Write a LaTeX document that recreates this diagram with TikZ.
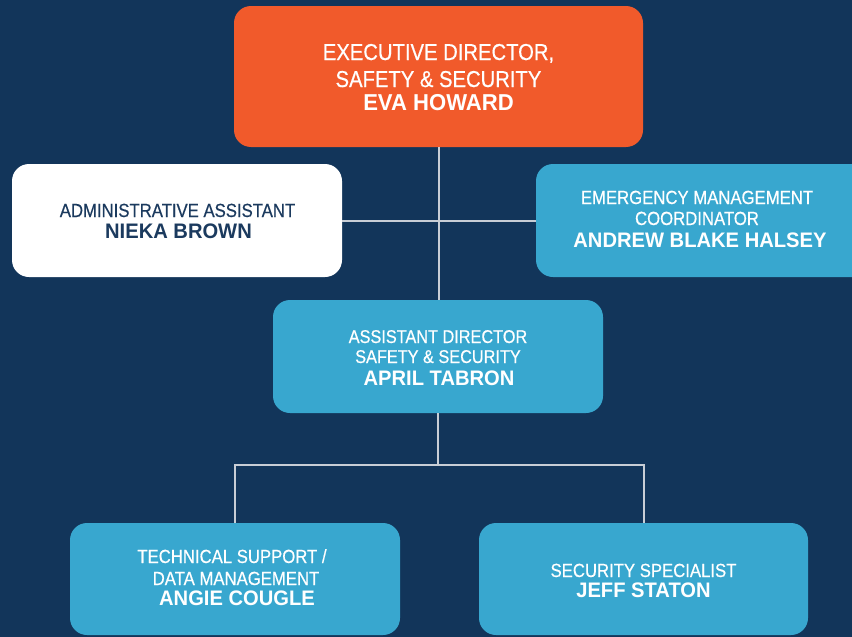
\documentclass[tikz,border=0pt]{standalone}
\usepackage{fontspec}
\setmainfont{Liberation Sans}
\newfontfamily\regf{Liberation Sans}[FakeStretch=0.88, FakeBold=0.5]
\newfontfamily\namef{Liberation Sans}[FakeStretch=0.96]
\definecolor{bgC}{HTML}{12355A}
\definecolor{orangeC}{HTML}{F15A2B}
\definecolor{blueC}{HTML}{38A7CF}
\definecolor{navyT}{HTML}{1B3A5E}
\definecolor{lineC}{HTML}{C8CED6}
\tikzset{
  card/.style={rectangle, draw=none, rounded corners=17pt, inner sep=0pt, outer sep=0pt},
  orangecard/.style={card, fill=orangeC},
  bluecard/.style={card, fill=blueC},
  whitecard/.style={card, fill=white},
  link/.style={draw=lineC, line width=2pt},
  txtline/.style={anchor=base, inner sep=0pt, outer sep=0pt, text=white},
  roletxt/.style={txtline, font=\regf\fontsize{19}{19}\selectfont},
  persontxt/.style={txtline, font=\namef\bfseries\fontsize{21}{21}\selectfont},
}
\begin{document}
\begin{tikzpicture}[x=1pt, y=-1pt]
\clip (0,0) rectangle (852,637);
\fill[bgC] (0,0) rectangle (852,637);

% boxes
\node[orangecard, minimum width=409pt, minimum height=141pt] (exec) at (438.5,76.5) {};
\node[whitecard, minimum width=330pt, minimum height=113pt] (admin) at (177,220.5) {};
\node[bluecard, minimum width=340pt, minimum height=113pt] (emc) at (706,220.5) {};
\node[bluecard, minimum width=330pt, minimum height=113pt] (asst) at (438,356.5) {};
\node[bluecard, minimum width=330pt, minimum height=112pt] (tech) at (235,579) {};
\node[bluecard, minimum width=329pt, minimum height=112pt] (spec) at (643.5,579) {};

% connectors
\coordinate (jn) at (438,465);
\draw[link] (exec.south) -- (exec.south |- asst.north);
\draw[link] (admin.east) -- (emc.west);
\draw[link] (asst.south) -- (asst.south |- jn);
\draw[link] (tech.north) -- (tech.north |- jn) -- (spec.north |- jn) -- (spec.north);

% texts
\node[txtline, font=\regf\fontsize{23}{23}\selectfont] (exec1) at (438.5,60) {EXECUTIVE DIRECTOR,};
\node[txtline, font=\regf\fontsize{23}{23}\selectfont] (exec2) at (438.5,87) {SAFETY \& SECURITY};
\node[txtline, font=\namef\bfseries\fontsize{23}{23}\selectfont] (exec3) at (438.5,110) {EVA HOWARD};

\node[roletxt, text=navyT] (admin1) at (177.5,217) {ADMINISTRATIVE ASSISTANT};
\node[persontxt, text=navyT] (admin2) at (178.5,238) {NIEKA BROWN};

\node[roletxt] (emc1) at (697,204) {EMERGENCY MANAGEMENT};
\node[roletxt] (emc2) at (697,225) {COORDINATOR};
\node[persontxt] (emc3) at (700,247) {ANDREW BLAKE HALSEY};

\node[roletxt, font=\regf\fontsize{18.5}{18.5}\selectfont] (asst1) at (438,343) {ASSISTANT DIRECTOR};
\node[roletxt, font=\regf\fontsize{18.5}{18.5}\selectfont] (asst2) at (438,363) {SAFETY \& SECURITY};
\node[persontxt] (asst3) at (439,385) {APRIL TABRON};

\node[roletxt] (tech1) at (232,563) {TECHNICAL SUPPORT /};
\node[roletxt] (tech2) at (236,585) {DATA MANAGEMENT};
\node[persontxt] (tech3) at (237,605) {ANGIE COUGLE};

\node[roletxt] (spec1) at (643.5,577) {SECURITY SPECIALIST};
\node[persontxt] (spec2) at (643.5,597) {JEFF STATON};
\end{tikzpicture}
\end{document}
